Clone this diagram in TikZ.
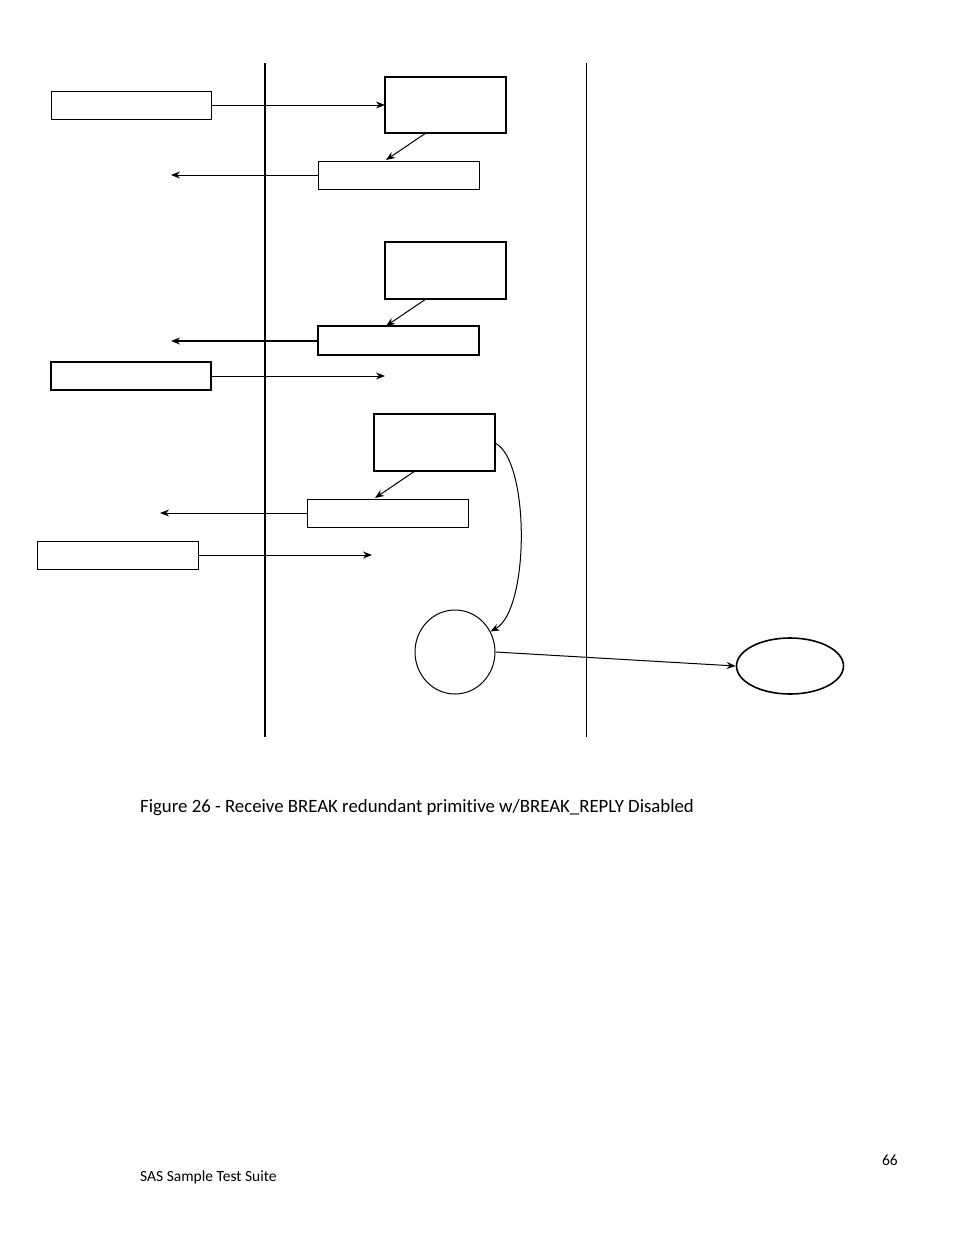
\documentclass[tikz,border=0pt]{standalone}
\usepackage{fontspec}
\setmainfont[Ligatures=NoCommon]{Carlito}
\usetikzlibrary{arrows.meta,shapes.geometric}
\begin{document}
\begin{tikzpicture}[x=1pt,y=-1pt,
 bx/.style={draw,line width=1.6pt},
 sb/.style={draw,line width=1pt},
 ar/.style={-{Stealth[length=9pt,width=7pt]},line width=1pt}]
\useasboundingbox (0,0) rectangle (954,1235);
\draw[line width=2pt] (265,63) -- (265,737);
\draw[line width=1pt] (586,63) -- (586,737);
\draw[sb] (51,91) rectangle (211,119);
\coordinate (Ae) at (211,105);
\draw[bx] (385,77) rectangle (506,133);
\coordinate (Bt) at (385,105);
\draw[ar] (Ae) -- (Bt);
\coordinate (Bb) at (426,133);
\draw[sb] (318,161) rectangle (479,189);
\coordinate (Ct) at (386,160);
\draw[ar] (Bb) -- (Ct);
\coordinate (Cl) at (318,175); \coordinate (Cx) at (171,175);
\draw[ar] (Cl) -- (Cx);
\draw[bx] (385,242) rectangle (506,299);
\coordinate (Db) at (426,299); \coordinate (Et) at (386,326);
\draw[ar] (Db) -- (Et);
\draw[bx] (318,326) rectangle (479,355);
\coordinate (El) at (318,341); \coordinate (Ex) at (171,341);
\draw[ar,line width=1.6pt] (El) -- (Ex);
\draw[bx] (51,362) rectangle (211,390);
\coordinate (Fr) at (211,376); \coordinate (Fx) at (385,376);
\draw[ar] (Fr) -- (Fx);
\draw[bx] (374,414) rectangle (495,471);
\coordinate (Gb) at (415,471); \coordinate (Ht) at (375,498);
\draw[ar] (Gb) -- (Ht);
\draw[sb] (307,499) rectangle (468,527);
\coordinate (Hl) at (307,513); \coordinate (Hx) at (160,513);
\draw[ar] (Hl) -- (Hx);
\draw[sb] (37,541) rectangle (198,569);
\coordinate (Ir) at (198,555); \coordinate (Ix) at (372,555);
\draw[ar] (Ir) -- (Ix);
\node[draw,line width=1pt,ellipse,minimum width=80pt,minimum height=84pt,inner sep=0] (C1) at (455,652) {};
\node[draw,line width=1.6pt,ellipse,minimum width=107pt,minimum height=56pt,inner sep=0] (C2) at (790,666) {};
\coordinate (Gr) at (495,443);
\draw[ar] (Gr) .. controls (530,460) and (530,610) .. (C1.30);
\draw[ar] (C1.east) -- (C2.west);
\node[anchor=base west,font=\fontsize{18.8}{22}\selectfont,inner sep=0] (cap) at (140,812) {Figure 26 - Receive BREAK redundant primitive w/BREAK\_REPLY Disabled};
\node[anchor=base east,font=\fontsize{15.5}{18}\selectfont,inner sep=0] (pg) at (898,1165) {66};
\node[anchor=base west,font=\fontsize{15.5}{18}\selectfont,inner sep=0] (ft) at (140,1181) {SAS Sample Test Suite};
\end{tikzpicture}
\end{document}
